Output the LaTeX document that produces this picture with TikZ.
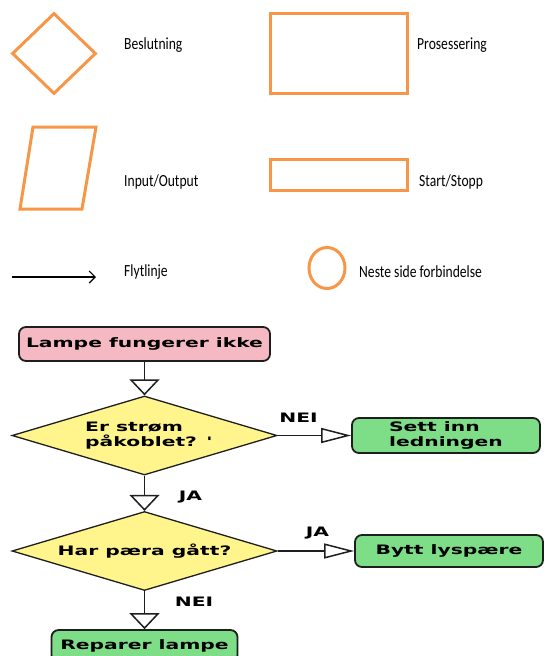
\documentclass[tikz,border=0pt]{standalone}
\usepackage{fontspec}
\setmainfont{Carlito}
\newfontfamily\legfont{Carlito}[FakeStretch=0.8]
\newfontfamily\flowfont{DejaVu Sans}[FakeStretch=1.56]
\usetikzlibrary{positioning,arrows.meta,shapes.geometric}
\definecolor{symorange}{RGB}{247,150,70}
\definecolor{lampink}{RGB}{245,185,195}
\definecolor{askyellow}{RGB}{255,245,140}
\definecolor{dogreen}{RGB}{126,221,135}
\definecolor{edge}{RGB}{30,30,30}

\begin{document}
\begin{tikzpicture}[x=1pt, y=-1pt,
  sym/.style={draw=symorange, line width=3pt, inner sep=0pt},
  leg/.style={anchor=west, inner sep=0pt, font=\legfont\fontsize{17pt}{19pt}\selectfont},
  flow/.style={font=\flowfont\bfseries\fontsize{13pt}{15pt}\selectfont},
  box/.style={flow, draw=edge, line width=1.8pt, rounded corners=7pt, inner sep=0pt, align=center},
  ask/.style={flow, draw=edge, line width=1.3pt, fill=askyellow, diamond, aspect=3.4, inner sep=0pt, minimum width=265pt, minimum height=79pt},
  yes/.style={flow, inner sep=0pt},
  down/.style={draw=edge, line width=1.5pt, -{Triangle[open, length=16pt, width=30pt]}},
  side/.style={draw=edge, line width=1.5pt, -{Triangle[open, length=30pt, width=15pt]}}]
\useasboundingbox (0,0) rectangle (546,656);
\clip (0,0) rectangle (546,656);
% legend
\node[sym, diamond, minimum width=84pt, minimum height=81pt] (dsym) at (54,53.5) {};
\node[leg] (dtxt) at (124,45) {Beslutning};
\node[sym, rectangle, minimum width=137pt, minimum height=80pt] (psym) at (338.5,53) {};
\node[leg] (ptxt) at (417,45) {Prosessering};
\draw[sym] (33,127) -- (96,127) -- (82,209) -- (20,209) -- cycle;
\node[leg] (iotxt) at (124,182) {Input/Output};
\node[sym, rectangle, minimum width=137pt, minimum height=31pt] (ssym) at (338.5,174.5) {};
\node[leg] (stxt) at (419,182) {Start/Stopp};
\coordinate (fa) at (12,277);
\coordinate (fb) at (96,277);
\draw[line width=1.1pt, -{Straight Barb[length=6pt, width=12pt]}] (fa) -- (fb);
\node[leg] (ftxt) at (124,272) {Flytlinje};
\node[sym, ellipse, minimum width=36pt, minimum height=41pt] (csym) at (327,268) {};
\node[leg] (ctxt) at (359,272) {Neste side forbindelse};
% flowchart
\node[box, fill=lampink, minimum width=251pt, minimum height=34pt] (lamp) at (144.5,344) {Lampe fungerer ikke};
\node[ask] (q1) at (144.5,435.5) {};
\node[flow, align=left, anchor=west, inner sep=0pt] (q1txt) at (85,435.5) {Er strøm\\påkoblet? '};
\node[box, fill=dogreen, minimum width=188pt, minimum height=35pt, align=left] (sett) at (446,435.5) {Sett inn\\ledningen};
\node[ask] (q2) at (144.5,551) {Har pæra gått?};
\node[box, fill=dogreen, minimum width=188pt, minimum height=32pt] (bytt) at (449,551) {Bytt lyspære};
\node[box, fill=dogreen, minimum width=186pt, minimum height=32pt, below=38pt of q2] (rep) {Reparer lampe};
\node[yes] (n1) at (298.5,418) {NEI};
\node[yes] (j1) at (190.5,497) {JA};
\node[yes] (j2) at (317.5,533) {JA};
\node[yes] (n2) at (194,602) {NEI};
\draw[down] (lamp) -- (q1);
\draw[down] (q1) -- (q2);
\draw[down] (q2) -- (rep);
\draw[side] (q1) -- (sett);
\draw[side] (q2) -- (bytt);
\end{tikzpicture}
\end{document}
